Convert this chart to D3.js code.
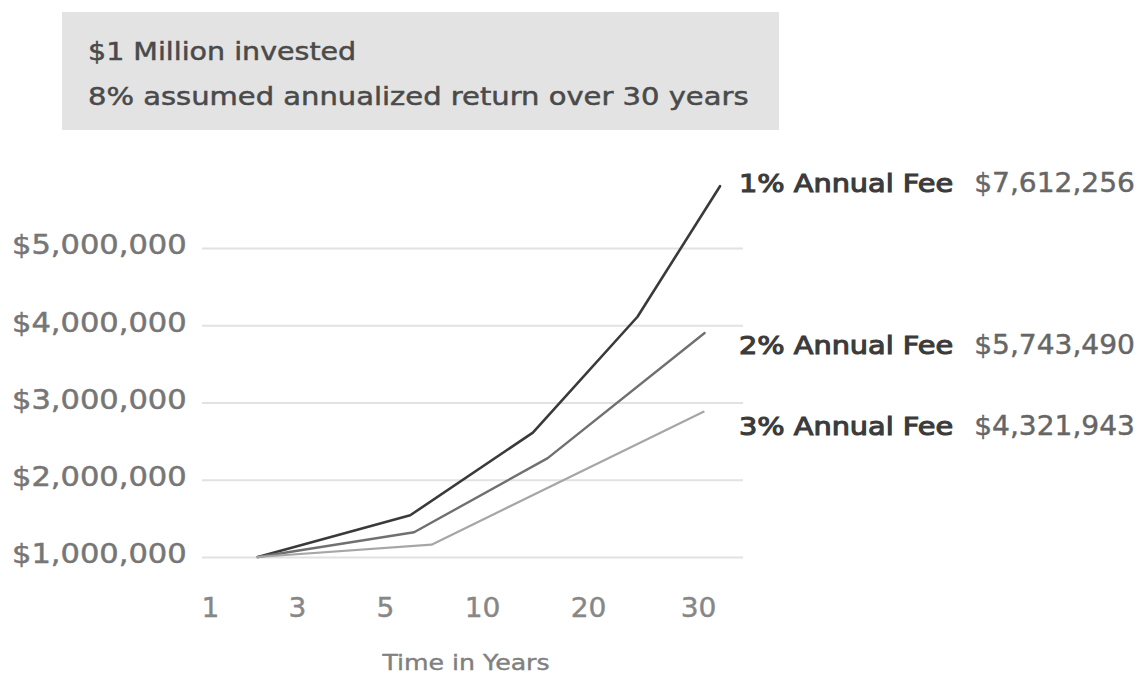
<!DOCTYPE html>
<html>
<head>
<meta charset="utf-8">
<script src="https://cdn.jsdelivr.net/npm/d3@7"></script>
<style>
  html, body { margin: 0; padding: 0; background: #ffffff; }
  svg { display: block; font-family: "DejaVu Sans", sans-serif; }
</style>
</head>
<body>
<svg id="chart" width="1143" height="677"></svg>
<script>
// ---- data ----
const titleLines = ["$1 Million invested", "8% assumed annualized return over 30 years"];
const xTickLabels = [1, 3, 5, 10, 20, 30];
const yTickValues = [1000000, 2000000, 3000000, 4000000, 5000000];
const seriesNames = ["1% Annual Fee", "2% Annual Fee", "3% Annual Fee"];
const seriesFinalLabels = ["$7,612,256", "$5,743,490", "$4,321,943"];
const fee1Years = [2.1, 6.3, 14.8, 24.5, 32.0];
const fee1Values = [1000000, 1540000, 2610000, 4110000, 5800000];
const fee2Years = [2.1, 6.5, 16.2, 30.6];
const fee2Values = [1000000, 1320000, 2280000, 3900000];
const fee3Years = [2.1, 7.4, 30.5];
const fee3Values = [1000000, 1160000, 2880000];
const axisTitle = "Time in Years";

// ---- styles / layout ----
const seriesColors = ["#3a3a3a", "#707070", "#a6a6a6"];
const seriesWidths = [2.6, 2.4, 2.2];
const legendY = [183, 345, 426];
const titleStretch = [1.14, 1.16];

const svg = d3.select("#chart");

function stretch(sel, k) {
  sel.each(function (d, i) {
    const kk = typeof k === "function" ? k(d, i) : k;
    const w = this.getComputedTextLength();
    d3.select(this).attr("textLength", w * kk).attr("lengthAdjust", "spacingAndGlyphs");
  });
}
function heavy(sel, color, sw) {
  sel.attr("stroke", color).attr("stroke-width", sw).attr("paint-order", "stroke");
}

// title box
svg.append("rect").attr("x", 62).attr("y", 12).attr("width", 717).attr("height", 118).attr("fill", "#e3e3e3");
const tt = svg.append("g").selectAll("text").data(titleLines).join("text")
  .attr("x", 88).attr("y", (d, i) => 60 + i * 45)
  .attr("font-size", 25).attr("fill", "#4a4a4a").text(d => d);
heavy(tt, "#4a4a4a", 0.5);
stretch(tt, (d, i) => titleStretch[i]);

// scales
const x = d3.scaleLinear().domain(xTickLabels).range([210, 297, 385, 482, 588, 698]);
const y = d3.scaleLinear().domain([1000000, 5000000]).range([557, 248]);

// y axis with gridlines
const gx0 = 202, gx1 = 743;
const yAxis = svg.append("g").attr("transform", `translate(${gx0},0)`)
  .call(d3.axisLeft(y).tickValues(yTickValues).tickFormat(d3.format("$,")).tickSize(-(gx1 - gx0)).tickPadding(0));
yAxis.select(".domain").remove();
yAxis.selectAll(".tick line").attr("stroke", "#e2e2e2").attr("stroke-width", 2.2);
const yl = yAxis.selectAll(".tick text")
  .attr("x", 12 - gx0).attr("dy", "0.22em").attr("text-anchor", "start")
  .attr("font-size", 27).attr("font-family", "DejaVu Sans").attr("fill", "#767676");
heavy(yl, "#767676", 0.5);
stretch(yl, 1.13);

// x axis
const xAxis = svg.append("g").attr("transform", "translate(0,598)")
  .call(d3.axisBottom(x).tickValues(xTickLabels).tickSize(0).tickPadding(0));
xAxis.select(".domain").remove();
const xl = xAxis.selectAll(".tick text").attr("dy", "0.72em")
  .attr("font-size", 26).attr("font-family", "DejaVu Sans").attr("fill", "#878787");
heavy(xl, "#878787", 0.4);
stretch(xl, 1.08);

// axis title
const at = svg.append("text").attr("x", 466).attr("y", 670).attr("text-anchor", "middle")
  .attr("font-size", 21).attr("fill", "#808080").text(axisTitle);
heavy(at, "#808080", 0.4);
stretch(at, 1.2);

// lines
const series = [
  fee1Years.map((t, i) => [t, fee1Values[i]]),
  fee2Years.map((t, i) => [t, fee2Values[i]]),
  fee3Years.map((t, i) => [t, fee3Values[i]])
];
const line = d3.line().x(d => x(d[0])).y(d => y(d[1]));
svg.append("g").selectAll("path").data(series).join("path")
  .attr("d", line).attr("fill", "none")
  .attr("stroke", (d, i) => seriesColors[i])
  .attr("stroke-width", (d, i) => seriesWidths[i])
  .attr("stroke-linejoin", "round").attr("stroke-linecap", "round");

// legend labels
const labK = 1.15, valK = 1.08;
seriesNames.forEach((name, i) => {
  const lab = svg.append("text").attr("x", 739).attr("y", legendY[i]).attr("dy", "0.36em")
    .attr("font-size", 25).attr("fill", "#3b3b3b").text(name);
  heavy(lab, "#3b3b3b", 1.1);
  const w = lab.node().getComputedTextLength() * labK;
  stretch(lab, labK);
  const val = svg.append("text").attr("x", 739 + w + 21).attr("y", legendY[i]).attr("dy", "0.36em")
    .attr("font-size", 26).attr("fill", "#666666").text(seriesFinalLabels[i]);
  heavy(val, "#666666", 0.4);
  stretch(val, valK);
});
</script>
</body>
</html>
